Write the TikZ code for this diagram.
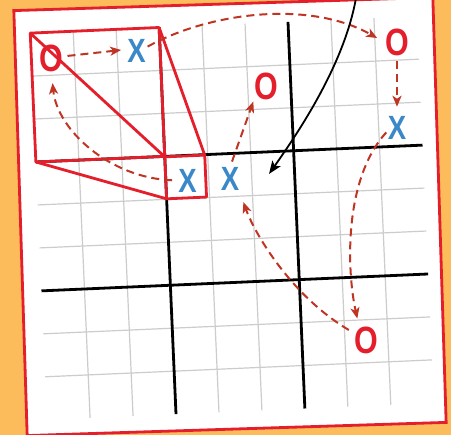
\documentclass[tikz,border=0pt]{standalone}
\usepackage{fontspec}
\usepackage{graphicx}
\setmainfont{Liberation Sans}
\usetikzlibrary{arrows.meta}
\definecolor{bgorange}{RGB}{252,188,92}
\definecolor{paperred}{RGB}{228,30,42}
\definecolor{xblue}{RGB}{58,136,200}
\definecolor{arrowred}{RGB}{192,52,36}
\definecolor{gridgray}{RGB}{204,204,204}
\newcommand{\glyphX}{\scalebox{0.86}[1.05]{X}}
\newcommand{\glyphO}{\scalebox{0.8}[1]{O}}
\tikzset{
  xmark/.style={inner sep=0pt, text=xblue, font=\bfseries\fontsize{32}{32}\selectfont},
  omark/.style={inner sep=0pt, text=paperred, font=\bfseries\fontsize{38}{38}\selectfont},
  gridthin/.style={draw=gridgray, line width=1.2pt},
  gridthick/.style={draw=black, line width=2.8pt},
  zoombox/.style={draw=paperred, line width=2.8pt, line join=round},
  movearrow/.style={draw=arrowred, line width=2pt, dash pattern=on 8pt off 5pt, -{Stealth[length=11pt,width=9pt,inset=3pt]}},
  jumparrow/.style={draw=black, line width=1.8pt, -{Stealth[length=13pt,width=10pt,inset=3pt]}},
}
\begin{document}
\begin{tikzpicture}[x=1pt,y=-1pt]
\useasboundingbox (0,0) rectangle (451,435);
\fill[bgorange] (0,0) rectangle (451,435);
% paper
\begin{scope}[rotate around={1.8:(230,216.5)}]
  \draw[draw=paperred, line width=2.8pt, fill=white] (20.4,3.9) rectangle (439.6,429.1);
\end{scope}
% board
\begin{scope}[rotate around={2.5:(232,218)}]
  \foreach \i in {1,2,4,5,7,8}{
    \draw[gridthin] ({38.5+43*\i},24.5) -- ({38.5+43*\i},411.5);
    \draw[gridthin] (38.5,{24.5+43*\i}) -- (425.5,{24.5+43*\i});
  }
  \foreach \i in {3,6}{
    \draw[gridthick] ({38.5+43*\i},24.5) -- ({38.5+43*\i},411.5);
    \draw[gridthick] (38.5,{24.5+43*\i}) -- (425.5,{24.5+43*\i});
  }
  \coordinate (bigTL) at (38.5,24.5);
  \coordinate (bigTR) at (167.5,24.5);
  \coordinate (bigBL) at (38.5,153.5);
  \coordinate (bigBR) at (167.5,153.5);
  \coordinate (cellTL) at (167.5,154);
  \coordinate (cellTR) at (207.5,154);
  \coordinate (cellBL) at (167.5,196);
  \coordinate (cellBR) at (207.5,196);
  \draw[zoombox] (bigTL) -- (bigTR) -- (bigBR) -- (bigBL) -- cycle;
  \draw[zoombox] (cellTL) -- (cellTR) -- (cellBR) -- (cellBL) -- cycle;
  \draw[zoombox] (bigTL) -- (cellTL);
  \draw[zoombox] (bigTR) -- (cellTR);
  \draw[zoombox] (bigBL) -- (cellBL);
\end{scope}
% marks
\node[omark] (Oa) at (51.5,58.5) {\glyphO};
\node[xmark] (Xa) at (136.5,51) {\glyphX};
\node[xmark] (Xb) at (187.5,180.5) {\glyphX};
\node[xmark] (Xc) at (230,179) {\glyphX};
\node[omark] (Ob) at (266,86) {\glyphO};
\node[omark] (Oc) at (397,42.5) {\glyphO};
\node[xmark] (Xd) at (397,127.5) {\glyphX};
\node[omark] (Od) at (366,340) {\glyphO};
% moves
\draw[movearrow, shorten <=4pt, shorten >=6pt] (Oa.10) -- (Xa.170);
\draw[movearrow, shorten <=6pt, shorten >=11pt] (Xb.west) .. controls (110,178) and (57,130) .. (Oa.south);
\draw[movearrow, shorten <=2pt, shorten >=9pt] (Xa.20) .. controls (210,12) and (310,0) .. (Oc.west);
\draw[movearrow, shorten <=5pt, shorten >=9pt] (Oc.south) -- (Xd.north);
\draw[movearrow, shorten <=2pt, shorten >=8pt] (Xd.200) .. controls (343,180) and (347,272) .. (Od.117);
\draw[movearrow, shorten <=6pt, shorten >=12pt] (Od.150) .. controls (290,295) and (254,232) .. (Xc.south east);
\draw[movearrow, shorten <=6pt, shorten >=2pt] (Xc.north) -- (Ob.south west);
% jump arrow
\coordinate (jumpstart) at (357,-8);
\coordinate (jumpend) at (269,174);
\draw[jumparrow] (jumpstart) .. controls (347,60) and (300,130) .. (jumpend);
\end{tikzpicture}
\end{document}
